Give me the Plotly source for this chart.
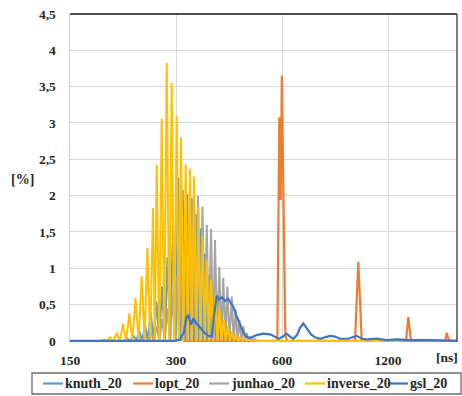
import math
import plotly.graph_objects as go

# ---------------- data ----------------
x_tick_ns = [150, 300, 600, 1200]
x_tick_text = ["150", "300", "600", "1200"]
y_tick_vals = [0, 0.5, 1, 1.5, 2, 2.5, 3, 3.5, 4, 4.5]
y_tick_text = ["0", "0,5", "1", "1,5", "2", "2,5", "3", "3,5", "4", "4,5"]

series_names = ["knuth_20", "lopt_20", "junhao_20", "inverse_20", "gsl_20"]
series_colors = ["#5B9BD5", "#ED7D31", "#A5A5A5", "#FFC000", "#4472C4"]

knuth_ns = [
    150, 213.3, 217.8, 222.3, 226.9, 231.4, 236.0, 240.5, 245.0, 249.6,
    254.3, 259.2, 264.1, 268.9, 273.8, 278.8, 283.8, 289.0, 294.2, 299.3,
    304.5, 308.9, 313.4, 318.2, 323.0, 327.7, 332.4, 337.5, 342.6, 347.6,
    352.6, 357.6, 362.6, 367.8, 373.0, 378.2, 383.4, 388.7, 394.1, 399.7,
    405.3, 410.6, 416.0, 421.9, 427.9, 433.8, 439.8, 446.0, 452.1, 458.5,
    465.0, 471.5, 1884]
knuth_pct = [
    0, 0, 0.03, 0, 0.08, 0, 0.14, 0, 0.22, 0,
    0.39, 0, 0.54, 0, 0.75, 0, 1.15, 0, 1.60, 0,
    2.25, 0, 2.08, 0, 2.02, 0, 1.97, 0, 1.75, 0,
    1.55, 0, 1.20, 0, 0.90, 0, 0.65, 0, 0.45, 0,
    0.30, 0, 0.20, 0, 0.12, 0, 0.07, 0, 0.04, 0,
    0.02, 0, 0]

lopt_ns = [314.0, 581.9, 589.5, 594.9, 599.2, 613.1, 620.0, 967.1, 988.2,
           1010.5, 1350.0, 1370.5, 1394.9, 1742.1, 1761.6, 1788.3, 1884]
lopt_pct = [0, 0, 3.08, 1.94, 3.65, 0.08, 0, 0, 1.09,
            0, 0, 0.33, 0, 0, 0.11, 0, 0]

junhao_ns = [
    150, 232.8, 237.1, 241.5, 245.8, 250.3, 254.8, 259.5, 264.1, 269.0,
    273.8, 278.8, 283.8, 288.5, 293.2, 297.6, 302.0, 306.0, 310.0, 314.1,
    318.2, 322.8, 327.3, 331.9, 336.4, 341.4, 346.4, 351.6, 356.8, 361.9,
    366.9, 372.0, 377.2, 382.2, 387.2, 392.7, 398.2, 403.5, 408.7, 414.2,
    419.6, 425.7, 431.8, 437.6, 443.3, 448.6, 453.8, 459.9, 465.9, 471.1,
    476.3, 482.3, 488.3, 494.8, 501.3, 507.8, 1884]
junhao_pct = [
    0, 0, 0.03, 0, 0.06, 0, 0.12, 0, 0.20, 0,
    0.30, 0, 0.45, 0, 0.65, 0, 0.90, 0, 1.20, 0,
    1.50, 0, 1.75, 0, 1.95, 0, 2.00, 0, 1.85, 0,
    1.60, 0, 1.54, 0, 1.39, 0, 1.02, 0, 0.87, 0,
    0.75, 0, 0.61, 0, 0.43, 0, 0.29, 0, 0.20, 0,
    0.11, 0, 0.06, 0, 0.03, 0, 0]

inverse_ns = [
    150, 184.0, 187.7, 191.3, 195.0, 199.3, 203.6, 207.9, 212.2, 216.6,
    221.1, 225.6, 230.2, 234.9, 239.7, 244.2, 248.7, 253.4, 258.1, 261.2,
    264.4, 268.8, 273.2, 277.7, 282.3, 287.0, 291.7, 296.5, 301.4, 305.7,
    310.0, 314.8, 319.6, 324.2, 328.8, 333.1, 337.5, 342.4, 347.3, 352.1,
    357.0, 361.9, 366.9, 372.0, 377.2, 382.4, 387.7, 393.1, 398.5, 404.0,
    409.5, 415.2, 421.0, 426.8, 432.7, 438.7, 444.7, 450.9, 457.1, 463.4,
    469.8, 476.7, 483.6, 490.0, 496.4, 503.0, 1300]
inverse_pct = [
    0, 0, 0.02, 0, 0.05, 0, 0.11, 0, 0.24, 0,
    0.38, 0, 0.59, 0, 0.89, 0, 1.28, 0, 1.83, 0,
    2.42, 0, 3.06, 0, 3.83, 0, 3.55, 0, 3.10, 0,
    2.80, 0, 2.43, 0, 2.37, 0, 2.26, 0, 1.85, 0,
    1.45, 0, 1.12, 0, 0.84, 0, 0.61, 0, 0.43, 0,
    0.29, 0, 0.20, 0, 0.13, 0, 0.08, 0, 0.05, 0,
    0.03, 0, 0.02, 0, 0.01, 0, 0]

gsl_ns = [
    150, 298.0, 308.0, 316.1, 320.3, 325.1, 330.9, 336.4, 341.9, 351.0,
    360.3, 369.8, 379.6, 384.6, 391.5, 397.4, 405.3, 413.3, 421.5, 429.9,
    436.4, 444.1, 455.9, 465.0, 474.2, 486.7, 508.5, 530.9, 554.7, 573.2,
    588.4, 603.9, 618.7, 632.2, 646.0, 661.8, 675.0, 689.7, 706.6, 725.3,
    744.5, 769.3, 794.9, 821.3, 848.6, 876.8, 923.9, 978.0, 1012.4, 1046.1,
    1114.6, 1189.9, 1270.4, 1385.8, 1579.4, 1884]
gsl_pct = [
    0, 0, 0.02, 0.12, 0.30, 0.36, 0.22, 0.31, 0.25, 0.18,
    0.12, 0.07, 0.06, 0.35, 0.62, 0.57, 0.60, 0.55, 0.58, 0.52,
    0.47, 0.36, 0.22, 0.13, 0.06, 0.04, 0.08, 0.10, 0.09, 0.06,
    0.03, 0.06, 0.10, 0.06, 0.03, 0.08, 0.18, 0.24, 0.17, 0.09,
    0.05, 0.03, 0.05, 0.07, 0.06, 0.03, 0.03, 0.07, 0.03, 0.02,
    0.03, 0.01, 0.02, 0.01, 0.01, 0.0]

X_MIN, X_MAX = 150, 1884
Y_MIN, Y_MAX = -0.015, 4.5

# ---------------- layout geometry ----------------
W, H = 462, 396
ML, MR, MT, MB = 70, 5, 14, 54
PW = W - ML - MR
PH = H - MT - MB

def px_x(px):
    return (px - ML) / PW

def px_y(py):
    return (H - MB - py) / PH

FONT = "Liberation Serif, Times New Roman, DejaVu Serif, serif"
TXT = "#262626"

fig = go.Figure()
xs = [knuth_ns, lopt_ns, junhao_ns, inverse_ns, gsl_ns]
ys = [knuth_pct, lopt_pct, junhao_pct, inverse_pct, gsl_pct]
widths = [2.0, 2.2, 2.0, 2.0, 2.2]
for name, col, x, y, w in zip(series_names, series_colors, xs, ys, widths):
    fig.add_trace(go.Scatter(x=x, y=y, mode="lines", name=name,
                             line=dict(color=col, width=w),
                             showlegend=False))

fig.update_xaxes(type="log", range=[math.log10(X_MIN), math.log10(X_MAX)],
                 tickvals=x_tick_ns, ticktext=x_tick_text,
                 showgrid=True, gridcolor="#D9D9D9", gridwidth=1,
                 showline=False, zeroline=False,
                 ticks="outside", ticklen=6, tickcolor="rgba(0,0,0,0)",
                 tickfont=dict(family=FONT, size=13.5, color=TXT, weight="bold"),
                 layer="below traces")
fig.update_yaxes(range=[Y_MIN, Y_MAX], tickvals=y_tick_vals, ticktext=y_tick_text,
                 showgrid=True, gridcolor="#D9D9D9", gridwidth=1,
                 showline=True, linecolor="#C9CDD6", linewidth=1.5,
                 zeroline=False,
                 ticks="outside", ticklen=10, tickcolor="rgba(0,0,0,0)",
                 tickfont=dict(family=FONT, size=13.5, color=TXT, weight="bold"),
                 layer="below traces")

shapes = [
    dict(type="line", xref="paper", yref="paper", x0=0, x1=1, y0=1, y1=1,
         line=dict(color="#505050", width=2)),
    dict(type="line", xref="paper", yref="paper", x0=1, x1=1, y0=0, y1=1,
         line=dict(color="#505050", width=1.5)),
    # legend box
    dict(type="rect", xref="paper", yref="paper",
         x0=px_x(32), x1=px_x(461), y0=px_y(394), y1=px_y(373),
         line=dict(color="#6A6A6A", width=1.3), fillcolor="rgba(0,0,0,0)"),
]
annotations = [
    dict(text="[%]", xref="paper", yref="paper", x=px_x(22), y=px_y(179),
         showarrow=False, xanchor="center", yanchor="middle",
         font=dict(family=FONT, size=14, color=TXT, weight="bold")),
    dict(text="[ns]", xref="paper", yref="paper", x=px_x(447), y=px_y(357),
         showarrow=False, xanchor="center", yanchor="middle",
         font=dict(family=FONT, size=13.5, color=TXT, weight="bold")),
]
leg_line_px = [43, 133, 209, 305, 388]
LEG_Y = 383.5
for name, col, lx in zip(series_names, series_colors, leg_line_px):
    shapes.append(dict(type="line", xref="paper", yref="paper",
                       x0=px_x(lx), x1=px_x(lx + 20), y0=px_y(LEG_Y), y1=px_y(LEG_Y),
                       line=dict(color=col, width=2.2)))
    annotations.append(dict(text=name, xref="paper", yref="paper",
                            x=px_x(lx + 20), y=px_y(LEG_Y), showarrow=False,
                            xanchor="left", yanchor="middle",
                            font=dict(family=FONT, size=14, color=TXT, weight="bold")))

fig.update_layout(width=W, height=H,
                  margin=dict(l=ML, r=MR, t=MT, b=MB, pad=0),
                  paper_bgcolor="white", plot_bgcolor="white",
                  shapes=shapes, annotations=annotations,
                  showlegend=False)

fig.write_html("out.html",
               config={"displayModeBar": False, "staticPlot": True},
               post_script="document.body.style.margin='0';document.body.style.padding='0';document.body.style.overflow='hidden';")
